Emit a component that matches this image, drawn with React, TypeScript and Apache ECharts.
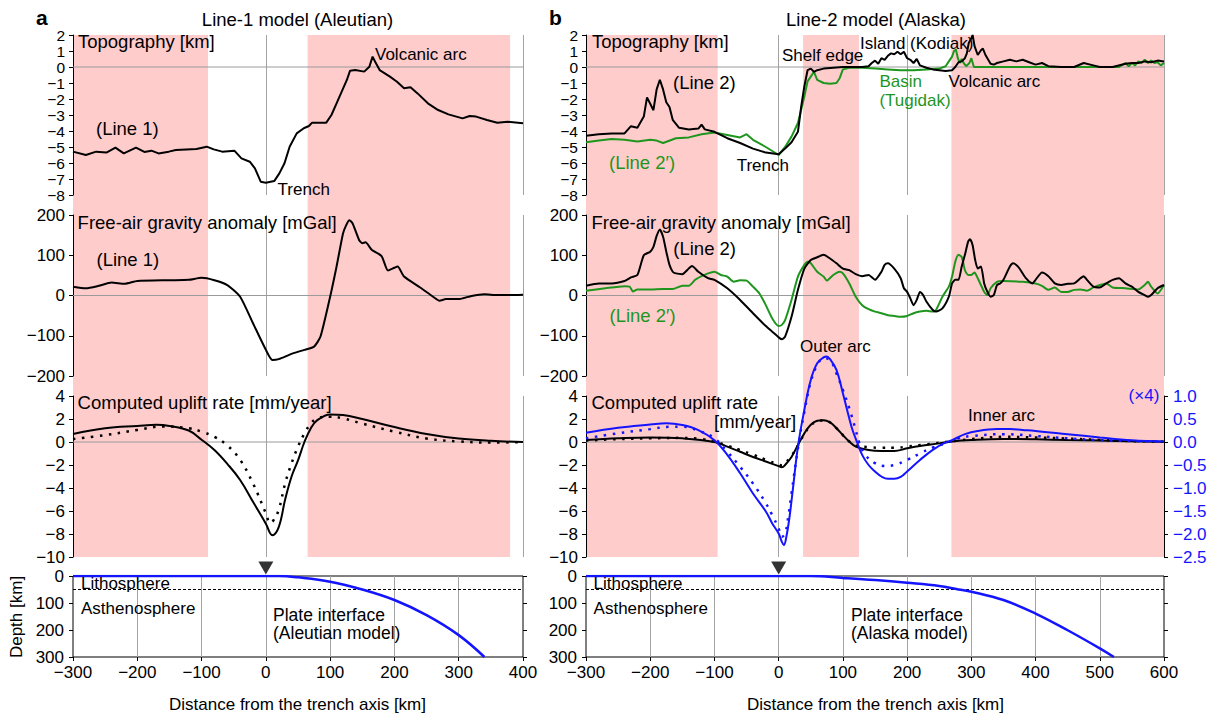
import React, { useEffect, useRef } from "react";
import * as echarts from "echarts";

// ---------------- data ----------------
const bandsA = [[-300, -90], [65, 380]];
const bandsB = [[-300, -95], [38, 125], [269, 600]];
const lithosphereDepth = 50;

// Line-1 (Aleutian)
const topoLine1 = [
  [-300, -5.29], [-280, -5.5], [-264, -5.29], [-248, -5.35], [-234, -5.04], [-221, -5.4], [-202, -5.04],
  [-189, -5.31], [-178, -5.23], [-167, -5.4], [-151, -5.29], [-140, -5.19], [-124, -5.15], [-108, -5.13],
  [-92, -4.98], [-81, -5.15], [-68, -5.29], [-49, -5.23], [-38, -5.71], [-25, -5.92], [-17, -6.33],
  [-8, -7.17], [0, -7.23], [13, -7.13], [21, -6.65], [29, -6.02], [37, -4.98], [48, -4.15], [59, -3.83],
  [67, -3.69], [72, -3.48], [94, -3.48], [102, -3.0], [110, -2.27], [118, -1.54], [126, -0.81],
  [131, -0.23], [139, -0.19], [153, -0.29], [161, 0.02], [166, 0.65], [170, 0.33], [177, -0.19],
  [193, -0.6], [204, -0.92], [215, -1.33], [225, -1.27], [236, -1.65], [252, -2.27], [268, -2.69],
  [284, -2.96], [306, -3.21], [317, -3.06], [327, -3.1], [344, -3.31], [360, -3.48], [376, -3.42], [400, -3.52],
];
const gravLine1 = [
  [-300, 22], [-280, 18], [-260, 24], [-240, 32], [-220, 29], [-200, 36], [-150, 38], [-120, 39], [-100, 44],
  [-80, 38], [-60, 26], [-40, -3], [-20, -69], [0, -135], [10, -160], [20, -158], [40, -145], [60, -135],
  [75, -127], [85, -102], [100, -3], [110, 72], [120, 154], [125, 175], [130, 187], [135, 179], [145, 138],
  [150, 130], [155, 132], [165, 113], [180, 98], [190, 62], [200, 69], [205, 72], [215, 47], [240, 20],
  [260, -3], [270, -13], [280, -9], [300, -9], [320, -1], [340, 3], [360, 1], [380, 1], [400, 2],
];
const upliftSolidA = [
  [-300, 0.7], [-250, 1.2], [-200, 1.4], [-170, 1.5], [-150, 1.4], [-120, 1.0], [-100, 0.2], [-80, -0.7],
  [-60, -1.9], [-40, -3.3], [-20, -5.2], [0, -7.1], [10, -8.1], [20, -7.4], [30, -5.0], [40, -3.0],
  [50, -1.6], [60, 0], [70, 1.2], [80, 1.9], [100, 2.4], [120, 2.35], [150, 2.0], [200, 1.3], [250, 0.7],
  [300, 0.3], [350, 0.1], [400, 0],
];
const upliftDotA = [
  [-300, 0.25], [-250, 0.6], [-200, 1.05], [-160, 1.35], [-120, 1.2], [-100, 0.9], [-80, 0.45], [-60, -0.3],
  [-40, -1.55], [-20, -3.6], [0, -6.2], [7, -7.05], [12, -6.8], [20, -5.9], [30, -3.6], [40, -1.85],
  [50, -0.4], [60, 0.75], [70, 1.6], [80, 2.05], [100, 2.2], [120, 2.05], [150, 1.6], [200, 0.9],
  [250, 0.3], [300, 0.05], [350, -0.05], [400, 0],
];
const plateAleutian = [
  [-300, 0], [0, 0], [20, 0], [50, 5], [100, 21], [150, 50], [200, 89], [250, 145], [300, 219], [340, 300],
];

// Line-2 (Alaska)
const topoLine2 = [
  [-300, -4.3], [-280, -4.2], [-260, -4.15], [-240, -4.15], [-230, -3.7], [-220, -3.8], [-210, -3.1],
  [-205, -1.9], [-200, -2.3], [-195, -2.7], [-190, -1.4], [-185, -0.8], [-180, -1.4], [-175, -2.2],
  [-170, -2.5], [-165, -3.3], [-155, -3.8], [-140, -3.9], [-125, -3.85], [-120, -3.6], [-115, -3.9],
  [-100, -4.05], [-80, -4.45], [-60, -4.75], [-40, -5.1], [-20, -5.35], [0, -5.45], [10, -5.1], [20, -4.7],
  [30, -4.05], [35, -2.5], [40, -1.2], [45, -0.2], [50, -0.1], [55, -0.3], [60, -0.2], [70, -0.1], [100, 0],
  [130, 0], [140, 0.05], [145, 0.25], [150, 0.4], [155, 0.2], [160, 0.55], [165, 0.45], [170, 0.7],
  [175, 0.85], [180, 0.8], [185, 0.95], [190, 0.8], [195, 0.95], [200, 0.55], [205, 0.45], [210, 0.25],
  [215, 0.5], [220, 0.1], [230, -0.05], [240, -0.15], [250, -0.2], [260, -0.25], [270, -0.2], [275, 0],
  [280, 0.3], [285, 0.35], [290, 0.55], [293, 0.85], [296, 1.5], [300, 1.8], [302, 2.0], [305, 1.3],
  [310, 0.75], [315, 1.05], [318, 1.15], [322, 0.75], [330, 0.2], [335, 0.15], [340, 0.25], [350, 0.35],
  [360, 0.45], [370, 0.35], [380, 0.45], [390, 0.3], [400, 0.15], [410, 0.25], [420, 0.05], [440, 0],
  [460, 0], [475, 0.25], [490, 0.1], [500, 0], [520, 0], [540, 0.2], [550, 0.25], [560, 0.25], [570, 0.35],
  [580, 0.3], [590, 0.4], [600, 0.35],
];
const topoLine2p = [
  [-300, -4.7], [-280, -4.6], [-260, -4.5], [-240, -4.55], [-220, -4.65], [-200, -4.55], [-190, -4.6],
  [-180, -4.75], [-160, -4.45], [-140, -4.4], [-120, -4.2], [-100, -4.1], [-80, -4.25], [-60, -4.4],
  [-50, -4.2], [-40, -4.55], [-20, -5.0], [0, -5.5], [10, -5.0], [20, -4.35], [30, -3.5], [40, -1.85],
  [45, -0.9], [50, -0.6], [55, -0.3], [60, -0.8], [70, -1.0], [80, -1.05], [90, -1.0], [95, -0.7],
  [100, -0.15], [110, -0.05], [130, -0.05], [150, -0.1], [170, -0.15], [190, -0.2], [210, -0.2],
  [230, -0.15], [250, -0.1], [260, 0.05], [265, 0.35], [270, 0.65], [273, 1.0], [276, 1.1], [279, 0.55],
  [282, 0.25], [285, 0.5], [288, 0.25], [292, 0.05], [297, 0.25], [300, 0.55], [304, 0], [320, 0],
  [400, 0], [500, 0], [530, 0], [540, 0.25], [545, 0.05], [550, 0.25], [555, 0.1], [560, 0.35],
  [565, 0.25], [570, 0.45], [575, 0.25], [580, 0.4], [585, 0.25], [590, 0.3], [595, 0.1], [600, 0.25],
];
const gravLine2 = [
  [-300, 24], [-280, 30], [-260, 30], [-240, 36], [-230, 45], [-220, 51], [-210, 100], [-200, 109],
  [-195, 121], [-190, 148], [-185, 164], [-180, 146], [-175, 109], [-170, 76], [-165, 59], [-160, 55],
  [-150, 53], [-140, 67], [-135, 73], [-125, 59], [-110, 43], [-100, 39], [-80, 18], [-60, -11], [-40, -44],
  [-20, -76], [-10, -90], [0, -104], [5, -109], [10, -102], [20, -53], [30, 14], [40, 67], [50, 88],
  [60, 95], [70, 101], [80, 92], [90, 80], [100, 67], [110, 63], [120, 53], [130, 48], [140, 51], [150, 39],
  [160, 59], [165, 76], [170, 80], [180, 67], [190, 43], [195, 18], [200, 9], [205, -7], [210, -24],
  [215, -11], [220, 9], [225, 1], [230, -15], [240, -36], [245, -40], [255, -32], [265, -3], [270, 30],
  [275, 39], [280, 39], [285, 72], [290, 101], [295, 134], [298, 140], [302, 125], [306, 88], [310, 67],
  [315, 72], [320, 30], [325, 9], [330, -3], [335, 1], [340, 26], [345, 30], [350, 39], [360, 72],
  [365, 80], [370, 76], [375, 67], [385, 43], [395, 30], [400, 39], [410, 57], [420, 48], [430, 30],
  [440, 26], [450, 29], [460, 30], [470, 43], [475, 48], [480, 39], [490, 22], [500, 20], [510, 30],
  [520, 39], [530, 43], [540, 30], [550, 22], [560, 9], [570, 1], [575, -3], [580, 1], [590, 18], [600, 26],
];
const gravLine2p = [
  [-300, 12], [-270, 18], [-240, 23], [-232, 22], [-227, 10], [-220, 15], [-200, 15], [-180, 16],
  [-165, 16], [-150, 24], [-140, 24], [-130, 39], [-120, 48], [-110, 55], [-100, 59], [-90, 51], [-80, 47],
  [-70, 34], [-60, 38], [-50, 37], [-40, 22], [-30, 5], [-20, -24], [-10, -57], [0, -76], [5, -73],
  [10, -61], [20, -11], [30, 47], [40, 76], [45, 84], [50, 80], [60, 59], [70, 47], [75, 37], [85, 51],
  [95, 59], [100, 55], [110, 30], [120, -3], [130, -24], [140, -34], [150, -40], [160, -44], [170, -49],
  [180, -51], [190, -53], [200, -51], [210, -44], [220, -40], [230, -38], [240, -40], [245, -36],
  [255, -3], [265, 22], [270, 47], [275, 84], [280, 101], [285, 96], [290, 63], [295, 51], [300, 51],
  [305, 57], [310, 43], [320, 9], [325, 1], [330, 18], [340, 34], [350, 36], [380, 34], [400, 30],
  [410, 24], [420, 14], [430, 20], [440, 9], [450, 9], [460, 14], [470, 15], [480, 12], [490, 20],
  [500, 26], [510, 30], [520, 20], [540, 18], [560, 15], [570, 26], [575, 34], [580, 22], [590, 5], [600, 26],
];
// uplift (left axis, mm/year)
const upliftBlackB = [
  [-300, 0.17], [-250, 0.32], [-200, 0.4], [-150, 0.32], [-100, 0], [-80, -0.4], [-60, -0.85], [-40, -1.3],
  [-20, -1.7], [0, -2.1], [5, -2.2], [10, -2.0], [20, -1.3], [30, -0.26], [40, 0.75], [50, 1.5], [60, 1.85],
  [70, 1.9], [80, 1.7], [90, 1.2], [100, 0.6], [110, 0.03], [120, -0.4], [140, -0.7], [160, -0.78],
  [180, -0.78], [200, -0.55], [220, -0.35], [250, -0.12], [270, 0.05], [300, 0.17], [350, 0.26],
  [400, 0.23], [450, 0.17], [500, 0.12], [550, 0.06], [600, 0.03],
];
const upliftBlackDotB = [
  [-300, 0.12], [-250, 0.25], [-200, 0.32], [-150, 0.36], [-120, 0.25], [-100, 0.02], [-80, -0.3],
  [-60, -0.7], [-40, -1.1], [-20, -1.55], [0, -1.95], [5, -2.05], [10, -1.85], [20, -1.2], [30, -0.3],
  [40, 0.7], [50, 1.45], [60, 1.8], [70, 1.88], [80, 1.7], [90, 1.2], [100, 0.6], [110, 0.05], [120, -0.3],
  [140, -0.45], [160, -0.5], [180, -0.5], [200, -0.4], [230, -0.2], [260, 0], [300, 0.25], [350, 0.45],
  [400, 0.4], [450, 0.3], [500, 0.18], [550, 0.08], [600, 0.03],
];
// uplift (right axis, x4)
const upliftBlueB = [
  [-300, 0.2], [-250, 0.31], [-200, 0.38], [-175, 0.41], [-150, 0.37], [-125, 0.26], [-100, 0.04],
  [-80, -0.28], [-60, -0.68], [-40, -1.12], [-20, -1.51], [-10, -1.77], [0, -1.99], [5, -2.17], [8, -2.24],
  [12, -2.06], [17, -1.62], [22, -1.04], [30, -0.1], [40, 0.7], [50, 1.35], [60, 1.71], [70, 1.84],
  [75, 1.86], [80, 1.8], [90, 1.57], [100, 1.06], [110, 0.51], [115, 0.26], [122, 0], [130, -0.28],
  [140, -0.5], [150, -0.64], [160, -0.75], [170, -0.8], [180, -0.8], [190, -0.76], [200, -0.64],
  [220, -0.39], [240, -0.17], [260, -0.01], [270, 0.04], [290, 0.17], [310, 0.24], [340, 0.28],
  [360, 0.28], [380, 0.26], [400, 0.24], [450, 0.17], [500, 0.1], [550, 0.04], [600, 0.01],
];
const upliftBlueDotB = [
  [-300, 0.08], [-250, 0.19], [-200, 0.28], [-170, 0.33], [-150, 0.33], [-120, 0.22], [-100, 0.08],
  [-80, -0.21], [-60, -0.54], [-40, -0.9], [-20, -1.33], [-10, -1.59], [0, -1.88], [5, -2.06], [10, -1.99],
  [15, -1.62], [20, -1.12], [30, -0.14], [40, 0.66], [50, 1.31], [60, 1.67], [70, 1.82], [80, 1.78],
  [90, 1.49], [100, 1.13], [110, 0.73], [120, 0.26], [125, 0], [135, -0.28], [150, -0.46], [165, -0.52],
  [180, -0.5], [200, -0.39], [220, -0.25], [240, -0.12], [260, -0.03], [280, 0.08], [300, 0.13],
  [350, 0.17], [400, 0.13], [450, 0.08], [500, 0.04], [550, 0.02], [600, 0.01],
];
const plateAlaska = [
  [-300, 0], [50, 0], [100, 7], [150, 15], [200, 25], [250, 37], [280, 50], [300, 58], [350, 89],
  [400, 139], [450, 201], [500, 268], [522, 300],
];

// ---------------- styling ----------------
const FONT = "'Liberation Sans', Arial, Helvetica, sans-serif";
const BLACK = "#000000";
const GREEN = "#1e961e";
const BLUE = "#1414ff";
const PINK = "#ffcccc";
const GRIDC = "#a3a3a3";
const FS = 17; // tick labels & small annotations
const FB = 18.5; // titles, panel labels
const FTOPO = 15.5; // densely packed topography ticks

const minus = (v: number | string) => String(v).replace("-", "\u2212");

function buildOption() {
  const cols = [
    { left: 73, width: 450, xmax: 400, bands: bandsA },
    { left: 586, width: 578, xmax: 600, bands: bandsB },
  ];
  const rows = [
    { top: 35, height: 522 },
    { top: 35, height: 160 },
    { top: 215, height: 161 },
    { top: 396, height: 161 },
    { top: 576, height: 81 },
  ];
  const yRanges: any[] = [
    { min: 0, max: 1 },
    { min: -8, max: 2, interval: 1 },
    { min: -200, max: 200, interval: 100 },
    { min: -10, max: 4, interval: 2 },
    { min: 0, max: 300, interval: 100, inverse: true },
  ];
  const grid: any[] = [];
  const xAxis: any[] = [];
  const yAxis: any[] = [];
  const series: any[] = [];

  cols.forEach((c, ci) => {
    rows.forEach((r, ri) => {
      const gi = ci * 5 + ri;
      grid.push({
        left: c.left, top: r.top, width: c.width, height: r.height,
        show: ri === 4, borderColor: BLACK, borderWidth: 1, backgroundColor: "transparent",
        outerBoundsMode: "none", containLabel: false,
      });
      if (ri === 0) {
        xAxis.push({ gridIndex: gi, type: "value", min: -300, max: c.xmax, show: false });
        yAxis.push({ gridIndex: gi, type: "value", min: 0, max: 1, show: false });
        return;
      }
      xAxis.push({
        gridIndex: gi, type: "value", min: -300, max: c.xmax, interval: 100, z: 1, position: "bottom",
        axisLine: { show: false, onZero: false },
        axisTick: ri === 4 ? { show: true, length: 4, lineStyle: { color: BLACK, width: 1 } } : { show: false },
        axisLabel: ri === 4
          ? { show: true, fontSize: FS, color: BLACK, fontFamily: FONT, margin: 7, showMinLabel: true, showMaxLabel: true, formatter: (v: number) => minus(v) }
          : { show: false },
        splitLine: {
          show: true, lineStyle: { color: GRIDC, width: 1 },
          ...(ri === 4 ? { showMinLine: false, showMaxLine: false } : {}),
        },
      });
      const fs = ri === 1 ? FTOPO : FS;
      yAxis.push({
        gridIndex: gi, type: "value", ...yRanges[ri], z: 1, position: "left",
        axisLine: { show: ri !== 4, onZero: false, lineStyle: { color: BLACK, width: 1 } },
        axisTick: { show: true, length: 4, lineStyle: { color: BLACK, width: 1 } },
        axisLabel: {
          fontSize: fs, lineHeight: fs, color: BLACK, fontFamily: FONT, margin: ri === 4 ? 9 : 8,
          hideOverlap: false, formatter: (v: number) => minus(v),
        },
        splitLine: { show: false },
      });
    });
  });

  // extra axes: 10 right uplift (x4), 11/12 depth right ticks
  yAxis.push({
    gridIndex: 8, type: "value", position: "right", min: -2.5, max: 1.0, interval: 0.5, z: 1,
    axisLine: { show: true, onZero: false, lineStyle: { color: BLACK, width: 1 } },
    axisTick: { show: true, length: 4, lineStyle: { color: BLACK, width: 1 } },
    axisLabel: {
      fontSize: FS, color: BLUE, fontFamily: FONT, margin: 9,
      formatter: (v: number) => minus(v.toFixed(1)),
    },
    splitLine: { show: false },
  });
  [4, 9].forEach((gi) => {
    yAxis.push({
      gridIndex: gi, type: "value", position: "right", min: 0, max: 300, interval: 100, inverse: true, z: 1,
      axisLine: { show: false, onZero: false },
      axisTick: { show: true, length: 4, lineStyle: { color: BLACK, width: 1 } },
      axisLabel: { show: false },
      splitLine: { show: false },
    });
  });

  const line = (gi: number, yi: number, data: number[][], color: string, extra: any = {}) => ({
    type: "line", xAxisIndex: gi, yAxisIndex: yi, data, symbol: "none", showSymbol: false, silent: true,
    z: 3, lineStyle: { color, width: 2, ...(extra.lineStyle || {}) },
    smooth: extra.smooth ?? false, clip: extra.clip ?? true, animation: false,
  });

  cols.forEach((c, ci) => {
    const g0 = ci * 5;
    series.push({
      type: "line", xAxisIndex: g0, yAxisIndex: g0, data: [[-300, 0]], symbol: "none", silent: true, z: 0,
      lineStyle: { opacity: 0, width: 0 },
      markArea: {
        silent: true, itemStyle: { color: PINK, opacity: 1 },
        data: c.bands.map((b) => [{ xAxis: b[0] }, { xAxis: b[1] }]),
      },
    });
    [1, 2, 3].forEach((ri) => {
      const gi = g0 + ri;
      series.push({
        type: "line", xAxisIndex: gi, yAxisIndex: gi, data: [[-300, 0], [c.xmax, 0]], symbol: "none",
        silent: true, z: 2, lineStyle: { color: "#9a9a9a", width: 1 },
      });
    });
    // lithosphere dashed line
    series.push({
      type: "line", xAxisIndex: g0 + 4, yAxisIndex: g0 + 4,
      data: [[-300, lithosphereDepth], [c.xmax, lithosphereDepth]], symbol: "none", silent: true, z: 2,
      lineStyle: { color: BLACK, width: 1, type: [3, 2] },
    });
    // trench marker
    series.push({
      type: "scatter", xAxisIndex: g0 + 4, yAxisIndex: g0 + 4, data: [[0, 0]], symbol: "triangle",
      symbolRotate: 180, symbolSize: [15, 13], symbolOffset: [0, -8], clip: false, silent: true, z: 5,
      itemStyle: { color: BLACK },
    });
  });

  const dotted = { type: [2.5, 6.5], width: 2.5 };

  // column a
  series.push(line(1, 1, topoLine1, BLACK));
  series.push(line(2, 2, gravLine1, BLACK, { smooth: 0.2 }));
  series.push(line(3, 3, upliftDotA, BLACK, { smooth: 0.4, lineStyle: dotted }));
  series.push(line(3, 3, upliftSolidA, BLACK, { smooth: 0.4 }));
  series.push(line(4, 4, plateAleutian, BLUE, { smooth: 0.4, lineStyle: { width: 2.5 } }));

  // column b
  series.push(line(6, 6, topoLine2p, GREEN));
  series.push(line(6, 6, topoLine2, BLACK));
  series.push(line(7, 7, gravLine2p, GREEN, { smooth: 0.2 }));
  series.push(line(7, 7, gravLine2, BLACK, { smooth: 0.2 }));
  series.push(line(8, 8, upliftBlackDotB, BLACK, { smooth: 0.4, lineStyle: dotted }));
  series.push(line(8, 8, upliftBlackB, BLACK, { smooth: 0.4 }));
  series.push(line(8, 10, upliftBlueDotB, BLUE, { smooth: 0.4, clip: false, lineStyle: dotted }));
  series.push(line(8, 10, upliftBlueB, BLUE, { smooth: 0.4, clip: false }));
  series.push(line(9, 9, plateAlaska, BLUE, { smooth: 0.4, lineStyle: { width: 2.5 } }));

  const T = (text: string, x: number, y: number, o: any = {}) => ({
    type: "text", x, y, silent: true, z: 20, rotation: o.rot || 0,
    style: {
      text, fill: o.color || BLACK, fontSize: o.size || FS, fontFamily: FONT,
      fontWeight: o.weight || "normal", textAlign: o.align || "left", textVerticalAlign: "middle",
    },
  });

  const graphic = [
    T("a", 36, 17.5, { size: 21, weight: "bold" }),
    T("Line-1 model (Aleutian)", 297.5, 19, { align: "center", size: FB }),
    T("Topography [km]", 78, 41.5, { size: FB }),
    T("Volcanic arc", 375, 54.5),
    T("(Line 1)", 96, 128, { size: FB }),
    T("Trench", 277.6, 189),
    T("Free-air gravity anomaly [mGal]", 77.6, 222.3, { size: FB }),
    T("(Line 1)", 96.5, 259.7, { size: FB }),
    T("Computed uplift rate [mm/year]", 77.6, 402.3, { size: FB }),
    T("Lithosphere", 81, 583.7),
    T("Asthenosphere", 81, 608),
    T("Plate interface", 273, 615.3, { size: 17.5 }),
    T("(Aleutian model)", 273, 633.3, { size: 17.5 }),
    T("Depth [km]", 16, 617, { align: "center", rot: Math.PI / 2 }),
    T("Distance from the trench axis [km]", 297.5, 704, { align: "center" }),

    T("b", 549, 17.5, { size: 21, weight: "bold" }),
    T("Line-2 model (Alaska)", 876, 19, { align: "center", size: FB }),
    T("Topography [km]", 592, 41.5, { size: FB }),
    T("Shelf edge", 782, 55),
    T("Island (Kodiak)", 860, 43.3),
    T("(Line 2)", 673, 82, { size: FB }),
    T("Basin", 879.4, 81.7, { color: GREEN }),
    T("(Tugidak)", 879.4, 100.5, { color: GREEN }),
    T("Volcanic arc", 948.6, 81.7),
    T("(Line 2\u2032)", 609, 162.5, { color: GREEN, size: FB }),
    T("Trench", 736.7, 165),
    T("Free-air gravity anomaly [mGal]", 591.5, 222.3, { size: FB }),
    T("(Line 2)", 673.3, 248.7, { size: FB }),
    T("(Line 2\u2032)", 609.5, 315, { color: GREEN, size: FB }),
    T("Outer arc", 800, 346.7),
    T("Computed uplift rate", 591.5, 402, { size: FB }),
    T("[mm/year]", 714, 421.7, { size: FB }),
    T("Inner arc", 968, 415.7),
    T("(\u00d74)", 1128.6, 395.7, { color: BLUE }),
    T("Lithosphere", 593.6, 583.7),
    T("Asthenosphere", 593.6, 608),
    T("Plate interface", 851, 615.3, { size: 17.5 }),
    T("(Alaska model)", 851, 633.3, { size: 17.5 }),
    T("Distance from the trench axis [km]", 875.5, 704, { align: "center" }),
  ];

  return {
    animation: false,
    backgroundColor: "#ffffff",
    textStyle: { fontFamily: FONT },
    grid, xAxis, yAxis, series, graphic,
  };
}

export default function App() {
  const ref = useRef<HTMLDivElement>(null);
  useEffect(() => {
    if (!ref.current) return;
    const chart = echarts.init(ref.current, null, { renderer: "svg" });
    chart.setOption(buildOption() as any);
    return () => chart.dispose();
  }, []);
  return (
    <div
      ref={ref}
      style={{ position: "fixed", left: 0, top: 0, width: 1218, height: 715, background: "#fff" }}
    />
  );
}
